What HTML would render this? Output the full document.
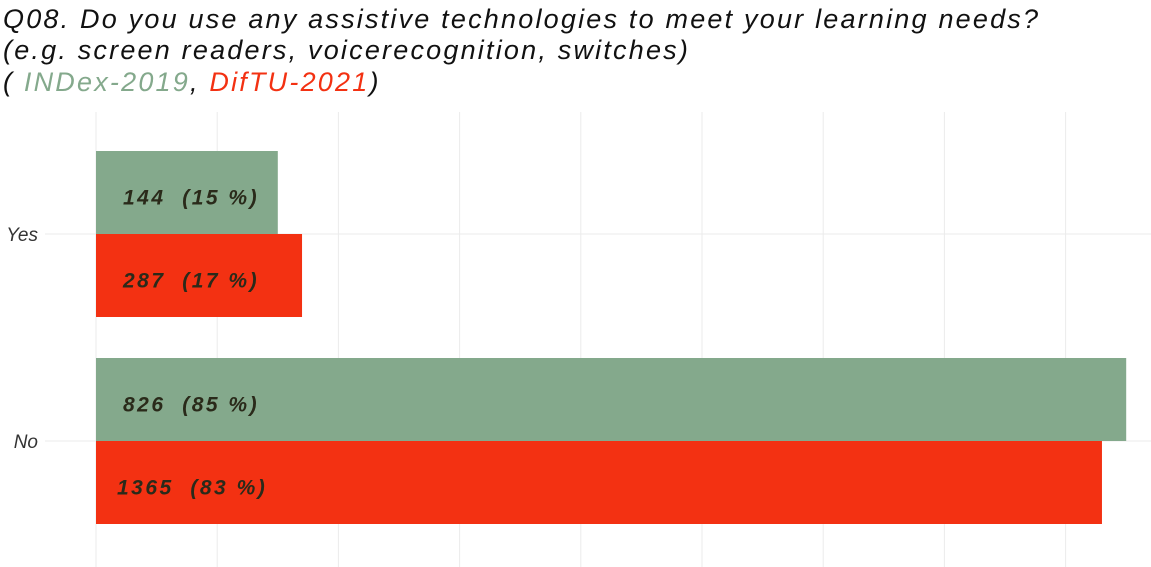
<!DOCTYPE html>
<html><head><meta charset="utf-8"><style>
body{margin:0;width:1151px;height:567px;background:#fff;overflow:hidden;font-family:"Liberation Sans",sans-serif}
svg{display:block}
.t{font-style:italic;font-size:27px;fill:#111;letter-spacing:2.2px}
.v{white-space:pre;letter-spacing:2.5px}
</style></head><body>
<svg width="1151" height="567">
<text class="t" x="3" y="28">Q08. Do you use any assistive technologies to meet your learning needs?</text>
<text class="t" x="3" y="59">(e.g. screen readers, voicerecognition, switches)</text>
<text class="t" x="3" y="91">( <tspan fill="#84a98c">INDex-2019</tspan>, <tspan fill="#f33112">DifTU-2021</tspan>)</text>
<g id="grid"></g><g id="bars"></g><g id="labels"></g>
</svg>
<script>
const categories=["Yes","No"];
const indexCounts=[144,826];
const indexPct=[15,85];
const diftuCounts=[287,1365];
const diftuPct=[17,83];
const gridTicks=[0,10,20,30,40,50,60,70,80];
const NS="http://www.w3.org/2000/svg";
const x=v=>96+v*12.12;
const yc=i=>234+i*207;
const bh=83;
function mk(t,a,p){const e=document.createElementNS(NS,t);for(const k in a)e.setAttribute(k,a[k]);p.appendChild(e);return e;}
const g=document.getElementById('grid'),b=document.getElementById('bars'),l=document.getElementById('labels');
gridTicks.forEach(v=>{const ln=mk('line',{x1:x(v),x2:x(v),y1:112,y2:567,stroke:'#ebebeb','stroke-width':1},g);

});
categories.forEach((c,i)=>{
const ln=mk('line',{x1:45,x2:1151,y1:yc(i),y2:yc(i),stroke:'#ebebeb','stroke-width':1},g);


const t=mk('text',{x:38,y:yc(i)+7,'text-anchor':'end','font-size':19,'font-style':'italic',fill:'#333'},l);t.textContent=c;


const r1=mk('rect',{x:x(0),y:yc(i)-bh,width:x(indexPct[i])-x(0),height:bh,fill:'#84a98c'},b);


const r2=mk('rect',{x:x(0),y:yc(i),width:x(diftuPct[i])-x(0),height:bh,fill:'#f33112'},b);


[[indexCounts[i],indexPct[i],yc(i)-bh/2],[diftuCounts[i],diftuPct[i],yc(i)+bh/2]].forEach(d=>{
const tt=mk('text',{x:String(d[0]).length>3?117:123,y:d[2]+12,'font-size':21,'font-weight':'bold','font-style':'italic',fill:'#2a2a1a','class':'v'},l);
tt.textContent=d[0]+"  ("+d[1]+" %)";

});
});
</script>
</body></html>
